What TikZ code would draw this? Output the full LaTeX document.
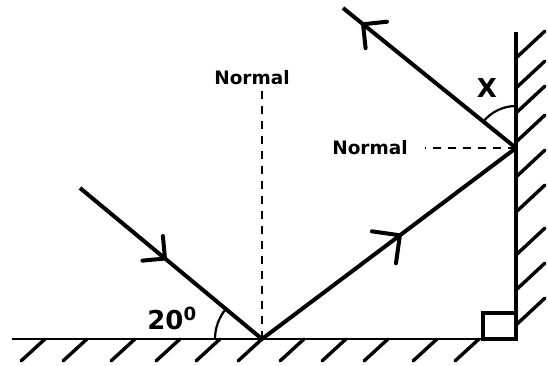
\documentclass[tikz,border=0pt]{standalone}
\usepackage{fontspec}
\setmainfont{DejaVu Sans}
\usetikzlibrary{decorations.markings}

\begin{document}
\begin{tikzpicture}[x=1pt, y=-1pt,
  ray/.style={line width=4pt},
  midarrow/.style args={#1/#2}{postaction={decorate}, decoration={markings,
    mark=at position #1 with {\draw[line width=4pt, line cap=round] (-#2,#2) -- (0,0) -- (-#2,-#2);}}},
  normalline/.style={line width=2.6pt, dash pattern=on 8pt off 7pt},
  hatch/.style={line width=3.4pt, line cap=round},
  lbl/.style={font=\bfseries\fontsize{18.5}{20}\selectfont},
  biglbl/.style={font=\bfseries\fontsize{26}{28}\selectfont}]
  \useasboundingbox (0,0) rectangle (548,366);
  % points of incidence
  \coordinate (P) at (262,339);
  \coordinate (Q) at (516,148);
  \coordinate (A) at (80,188);
  \coordinate (B) at (343,8);
  % floor mirror
  \draw[line width=2.8pt] (12,339) -- (516,339);
  \foreach \x in {45,87,135,180,220,262,304,346,388,437,479}
    \draw[hatch] (\x,339) -- ++(-24,22);
  % wall mirror
  \draw[line width=4pt] (516,32) -- (516,340);
  \foreach \y in {58,88,113,142,177,212,255,290,325}
    \draw[hatch] (516,\y) -- ++(29,-27);
  \draw[line width=3.8pt] (483,313) rectangle (516,339);
  % normals
  \node[lbl] (n1) at (252,78) {Normal};
  \coordinate (N1) at (262,88);
  \draw[normalline] (P) -- (N1);
  \node[lbl] (n2) at (370,148) {Normal};
  \coordinate (N2) at (425,148);
  \draw[normalline] (Q) -- (N2);
  % rays
  \draw[ray, midarrow=0.467/16] (A) -- (P);
  \draw[ray, midarrow=0.543/20] (P) -- (Q);
  \draw[ray, midarrow=0.884/17] (Q) -- (B);
  % angles
  \draw[line width=2.2pt] ([shift={(180:47)}]P) arc[start angle=180, end angle=219.7, radius=47];
  \node[biglbl] (ang) at (172,318) {20\textsuperscript{0}};
  \draw[line width=2.2pt] ([shift={(270:42)}]Q) arc[start angle=270, end angle=219.3, radius=42];
  \node[biglbl] (xl) at (487,88) {X};
\end{tikzpicture}
\end{document}
